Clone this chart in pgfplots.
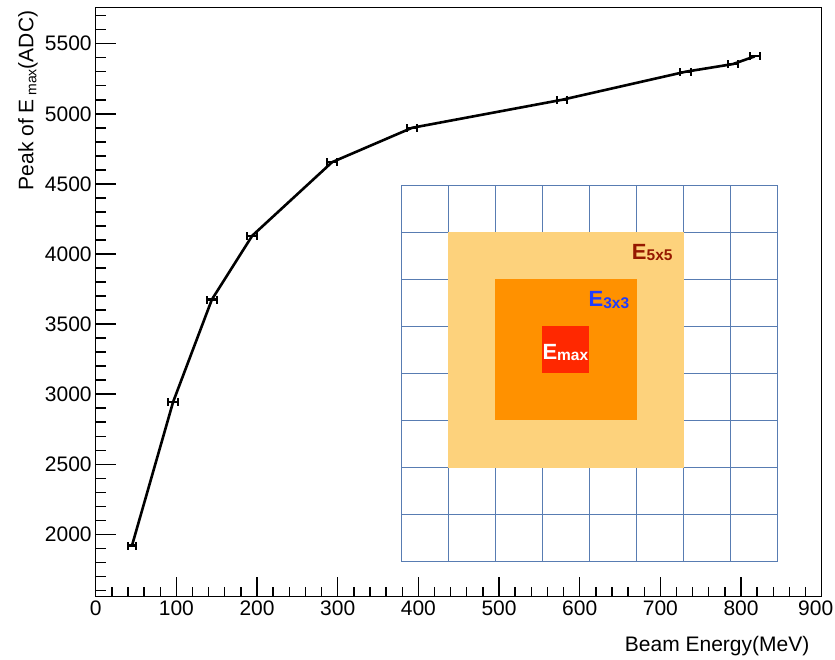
\documentclass[border=0pt]{standalone}
\usepackage{pgfplots}
\pgfplotsset{compat=1.18}
\usepackage{fontspec}
\setmainfont{Liberation Sans}

\definecolor{gridblue}{RGB}{88,124,178}
\definecolor{cellfive}{RGB}{253,210,124}
\definecolor{cellthree}{RGB}{255,145,0}
\definecolor{cellmax}{RGB}{255,40,0}
\definecolor{labfive}{RGB}{150,24,0}
\definecolor{labthree}{RGB}{30,60,255}

\newcommand{\labfont}{\fontsize{21}{25}\selectfont}

\begin{document}
\begin{tikzpicture}
\path[use as bounding box] (0,0) rectangle (835pt,659pt);
\begin{axis}[
  at={(95.7pt,62.3pt)}, anchor=south west,
  scale only axis, width=726pt, height=589.4pt,
  xmin=0, xmax=900, ymin=1555, ymax=5760,
  xtick={0,100,...,800},
  extra x ticks={900}, extra x tick labels={900},
  extra x tick style={xticklabel style={xshift=-6pt}},
  minor xtick={20,40,...,880},
  ytick={2000,2500,...,5500},
  minor ytick={1600,1700,...,5700},
  xtick pos=bottom, ytick pos=left,
  tick align=inside,
  major tick length=20pt, minor tick length=10pt,
  line width=1.4pt,
  every tick/.style={black, line width=1.4pt},
  /pgf/number format/assume math mode=true,
  /pgf/number format/1000 sep={},
  tick label style={font=\labfont},
  xlabel={Beam Energy(MeV)},
  ylabel={Peak of E\,\raisebox{-3pt}{\fontsize{14}{16}\selectfont max}(ADC)},
  xlabel style={font=\labfont, at={(axis description cs:0.9839,-0.0938)}, anchor=base east, inner sep=0pt},
  ylabel style={font=\labfont, at={(axis description cs:-0.0860,0.9954)}, anchor=base east, inner sep=0pt},
]
% peak position vs beam energy, with beam energy spread as x errors
\addplot[black, line width=2.6pt, mark=none,
  error bars/.cd, x dir=both, x explicit,
  error mark=|,
  error bar style={line width=2.2pt},
  error mark options={black, line width=2pt, mark size=4pt}]
  coordinates {
  (45,1920)  +- (5,0)
  (96,2945)  +- (6,0)
  (144,3675) +- (6,0)
  (194,4130) +- (6,0)
  (293,4655) +- (6,0)
  (392,4900) +- (6,0)
  (578,5100) +- (6,0)
  (731,5300) +- (7,0)
  (790,5355) +- (6,0)
  (817,5410) +- (6,0)
  };
\end{axis}

% crystal matrix sketch: 8x8 cells, 5x5 / 3x3 / central crystal
\begin{scope}[shift={(401pt,97.2pt)}, x=47.1pt, y=47.1pt]
  \draw[gridblue, line width=0.8pt] (0,0) grid[step=1] (8,8);
  \fill[cellfive] (1,2) rectangle (6,7);
  \fill[cellthree] (2,3) rectangle (5,6);
  \fill[cellmax] (3,4) rectangle (4,5);
  \node[anchor=base west, inner sep=0pt, text=labfive, font=\bfseries\fontsize{22}{26}\selectfont]
    at (4.9,6.42) {E\raisebox{-1.5pt}{\fontsize{15.5}{18}\selectfont 5x5}};
  \node[anchor=base west, inner sep=0pt, text=labthree, font=\bfseries\fontsize{22}{26}\selectfont]
    at (3.98,5.42) {E\raisebox{-1.5pt}{\fontsize{15.5}{18}\selectfont 3x3}};
  \node[anchor=base west, inner sep=0pt, text=white, font=\bfseries\fontsize{22}{26}\selectfont]
    at (3.0,4.30) {E\raisebox{-1.5pt}{\fontsize{15.5}{18}\selectfont max}};
\end{scope}
\end{tikzpicture}
\end{document}
